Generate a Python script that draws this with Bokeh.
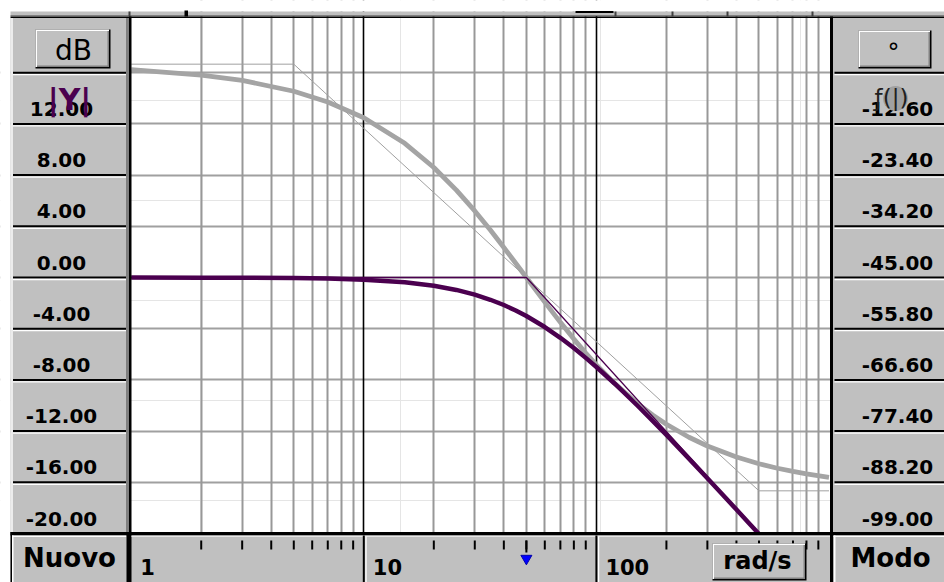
from bokeh.plotting import figure
from bokeh.models import Range1d, LogScale, Grid, FixedTicker
from bokeh.core.properties import value
from bokeh.embed import file_html
from bokeh.resources import INLINE

# ---------------- data ----------------
freq_mag = [1, 2, 3, 5, 7, 10, 15, 20, 25, 30, 35, 40, 45, 50, 60, 70, 80, 90, 100,
            120, 150, 175, 200, 250, 300, 350, 400, 450, 500]
mag_db = [0.00, -0.01, -0.02, -0.04, -0.08, -0.17, -0.37, -0.64, -0.97, -1.34, -1.74,
          -2.15, -2.58, -3.01, -3.87, -4.71, -5.51, -6.28, -6.99, -8.30, -10.00, -11.22,
          -12.30, -14.15, -15.68, -16.99, -18.13, -19.14, -20.04]
freq_phase = [1, 2, 3, 5, 7, 10, 15, 20, 25, 30, 35, 40, 45, 50, 60, 70, 80, 90, 100,
              120, 150, 175, 200, 250, 300, 400, 500, 600, 700, 800, 1000]
phase_deg = [-1.15, -2.29, -3.43, -5.71, -7.97, -11.31, -16.70, -21.80, -26.57, -30.96,
             -34.99, -38.66, -41.99, -45.00, -50.19, -54.46, -57.99, -60.95, -63.43,
             -67.38, -71.57, -74.05, -75.96, -78.69, -80.54, -82.87, -84.29, -85.24,
             -85.91, -86.42, -87.14]
mag_asym_freq = [1, 50, 500]
mag_asym_db = [0, 0, -20]
phase_asym_freq = [1, 5, 500, 1000]
phase_asym_deg = [0, 0, -90, -90]

db_ticks = [12, 8, 4, 0, -4, -8, -12, -16, -20]
db_labels = ["12.00", "8.00", "4.00", "0.00", "-4.00", "-8.00", "-12.00", "-16.00", "-20.00"]
phase_ticks = [-12.6, -23.4, -34.2, -45.0, -55.8, -66.6, -77.4, -88.2, -99.0]
phase_labels = ["-12.60", "-23.40", "-34.20", "-45.00", "-55.80", "-66.60", "-77.40", "-88.20", "-99.00"]
db_grid = [16, 12, 8, 4, 0, -4, -8, -12, -16]
decade_freq = [1, 10, 100]
decade_labels = ["1", "10", "100"]
major_grid_freq = [10, 100]
minor_freq = [2, 3, 4, 5, 6, 7, 8, 9, 20, 30, 40, 50, 60, 70, 80, 90,
              200, 300, 400, 500, 600, 700, 800, 900]
cursor_freq = [50]

# ---------------- geometry (reference pixel space) ----------------
W, H = 944, 582
GL, DEC = 130.7, 232.6      # x pixel of 1 rad/s, pixels per decade
Y0, S = 277.0, 12.8         # y pixel of 0 dB, pixels per dB
PURPLE = "#4b004f"
GRAY = "#c0c0c0"
FONT = value("DejaVu Sans")

p = figure(width=W, height=H, x_range=Range1d(0, W), y_range=Range1d(H, 0),
           toolbar_location=None, output_backend="svg", min_border=0,
           x_axis_location=None, y_axis_location=None)
p.outline_line_color = None
p.background_fill_color = "white"
p.border_fill_color = "white"

p.extra_x_ranges = {"w": Range1d(10 ** ((0 - GL) / DEC), 10 ** ((W - GL) / DEC))}
p.extra_x_scales = {"w": LogScale()}
db_lo, db_hi = (Y0 - H) / S, (Y0 - 0) / S
p.extra_y_ranges = {"db": Range1d(db_lo, db_hi),
                    "ph": Range1d(-45 + 2.7 * db_lo, -45 + 2.7 * db_hi)}

# grids
vgrid = Grid(dimension=0, x_range_name="w",
             ticker=FixedTicker(ticks=major_grid_freq, minor_ticks=minor_freq),
             grid_line_color="#000000", grid_line_width=1.6,
             minor_grid_line_color="#989898", minor_grid_line_width=2)
hgrid = Grid(dimension=1, y_range_name="db", ticker=FixedTicker(ticks=db_grid),
             grid_line_color="#a0a0a0", grid_line_width=2)
p.add_layout(hgrid, "center")
p.add_layout(vgrid, "center")

# curves
p.line(freq_phase, phase_deg, x_range_name="w", y_range_name="ph",
       line_color="#a4a4a4", line_width=4.8, line_join="round")
p.line(phase_asym_freq, phase_asym_deg, x_range_name="w", y_range_name="ph",
       line_color="#a0a0a0", line_width=1)
p.line(mag_asym_freq, mag_asym_db, x_range_name="w", y_range_name="db",
       line_color=PURPLE, line_width=1.3)
p.line(freq_mag, mag_db, x_range_name="w", y_range_name="db",
       line_color=PURPLE, line_width=4.5, line_join="round")


# ---------------- window chrome ----------------
def rect(l, r, t, b, c):
    p.quad(left=l, right=r, top=t, bottom=b, fill_color=c, line_color=None)


def button(l, r, t, b):
    rect(l, r, t, b, "black")
    rect(l, r - 1.5, t, b - 1.5, "white")
    rect(l + 1.5, r - 1.5, t + 1.5, b - 1.5, "#808080")
    rect(l + 1.5, r - 3, t + 1.5, b - 3, GRAY)


# white margins
rect(0, 10, 0, H, "white")
rect(0, W, 0, 11, "white")
# top strip
rect(10, W, 11, 15, GRAY)
rect(10, W, 14.5, 16, "#808080")
rect(10, W, 16, 17.5, "black")
for xs in [128, 614, 671, 726, 811]:
    rect(xs, xs + 2, 11, 16, "#404040")
rect(184, 187.5, 10, 16, "black")
rect(575, 613, 10.5, 12.5, "black")

# left panel
rect(10, 129, 17.5, 533, GRAY)
rect(10, 12.5, 17.5, 533, "#ececec")
rect(125.5, 129, 17.5, 533, "#808080")
p.segment(x0=12.5, x1=125.5, y0=db_grid, y1=db_grid, y_range_name="db",
          line_color="black", line_width=2)
p.segment(x0=12.5, x1=125.5, y0=[v - 2 / S for v in db_grid], y1=[v - 2 / S for v in db_grid],
          y_range_name="db", line_color="white", line_width=1.3)
# right panel
rect(832.5, W, 17.5, 533, GRAY)
p.segment(x0=834, x1=W, y0=db_grid, y1=db_grid, y_range_name="db",
          line_color="black", line_width=2)
p.segment(x0=834, x1=W, y0=[v - 2 / S for v in db_grid], y1=[v - 2 / S for v in db_grid],
          y_range_name="db", line_color="white", line_width=1.3)

# graph borders
rect(128.5, 131, 16, 535, "black")
rect(829.5, 832.5, 16, 535, "black")

# bottom region
rect(10, W, 533, H, GRAY)
rect(10, W, 531.5, 535, "black")
# Nuovo button
rect(10, 11.5, 531.5, H, "black")
rect(11.5, 13, 535, H, "white")
rect(11.5, 126, 535, 536.5, "white")
rect(126, 131, 531.5, H, "black")
# axis bar
rect(131, 829.5, 535, 536.5, "#e6e6e6")
p.segment(x0=decade_freq[1:], x1=decade_freq[1:], y0=535, y1=H, x_range_name="w",
          line_color="black", line_width=2)
hl = [f * 10 ** (2.2 / DEC) for f in decade_freq[1:]]
p.segment(x0=hl, x1=hl, y0=536, y1=H, x_range_name="w", line_color="white", line_width=1.3)
p.segment(x0=minor_freq, x1=minor_freq, y0=540, y1=549, x_range_name="w",
          line_color="black", line_width=2)
p.segment(x0=cursor_freq, x1=cursor_freq, y0=540, y1=552, x_range_name="w",
          line_color="black", line_width=2)
p.scatter(x=cursor_freq, y=[558], x_range_name="w", marker="inverted_triangle", size=11,
          fill_color="#0000ff", line_color="#0000aa")
# Modo button
rect(829.5, 833, 531.5, H, "black")
rect(833, 835, 535, H, "white")
rect(833, W, 535, 536.5, "white")

# rad/s, dB and degree buttons
button(712, 806, 543, 580)
button(35, 110, 29, 68)
button(858, 931, 30, 68)

# ---------------- texts (vertically centred on their y) ----------------
p.text(x=61, y=db_ticks, text=db_labels, y_range_name="db", y_offset=-15,
       text_font=FONT, text_font_style="bold", text_font_size="20px",
       text_align="center", text_baseline="middle", text_color="black")
p.text(x=897, y=phase_ticks, text=phase_labels, y_range_name="ph", y_offset=-15,
       text_font=FONT, text_font_style="bold", text_font_size="20px",
       text_align="center", text_baseline="middle", text_color="black")
p.text(x=decade_freq, y=566, text=decade_labels, x_range_name="w", x_offset=9,
       text_font=FONT, text_font_style="bold", text_font_size="21px",
       text_align="left", text_baseline="middle", text_color="black")

# icons over the first row
p.scatter(x=[895], y=[98], marker="circle", size=25, fill_color="#a0a0a0", line_color=None)
p.text(x=[891], y=[97], text=["ƒ(|)"], text_font=FONT, text_font_size="23px",
       text_align="center", text_baseline="middle", text_color="#202020")
p.text(x=[69], y=[99], text=["|Y|"], text_font=FONT, text_font_style="bold",
       text_font_size="30px", text_align="center", text_baseline="middle",
       text_color=PURPLE)

p.text(x=[73], y=[50], text=["dB"], text_font=FONT, text_font_size="28px",
       text_align="center", text_baseline="middle", text_color="black")
p.text(x=[893], y=[52], text=["°"], text_font=FONT, text_font_size="24px",
       text_align="center", text_baseline="middle", text_color="black")
p.text(x=[69], y=[557], text=["Nuovo"], text_font=FONT, text_font_style="bold",
       text_font_size="26px", text_align="center", text_baseline="middle",
       text_color="black")
p.text(x=[890], y=[557], text=["Modo"], text_font=FONT, text_font_style="bold",
       text_font_size="26px", text_align="center", text_baseline="middle",
       text_color="black")
p.text(x=[757], y=[560], text=["rad/s"], text_font=FONT, text_font_style="bold",
       text_font_size="24px", text_align="center", text_baseline="middle",
       text_color="black")

open("out.html", "w").write(file_html(p, INLINE))
